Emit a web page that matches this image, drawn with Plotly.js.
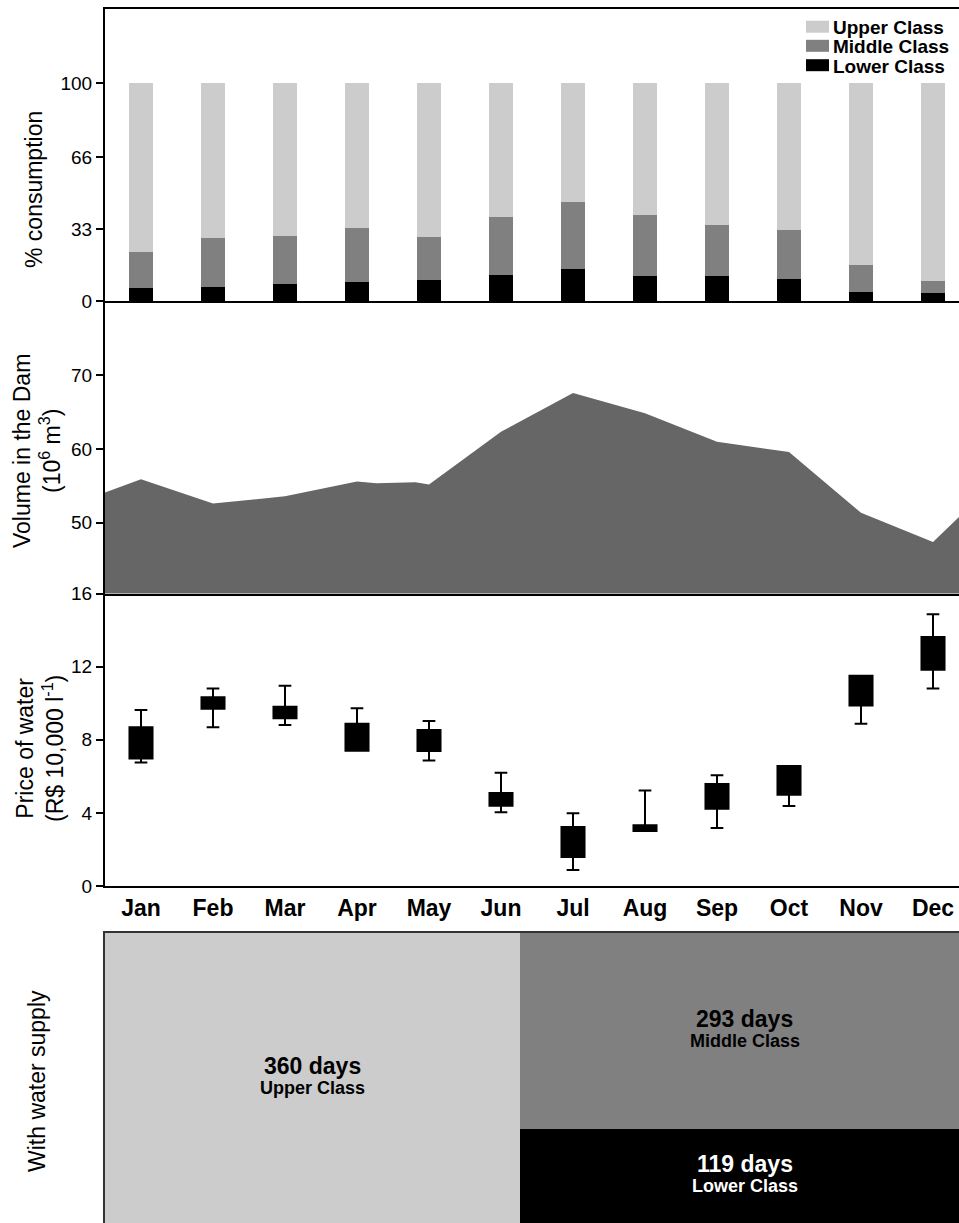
<!DOCTYPE html>
<html>
<head>
<meta charset="utf-8">
<script src="https://cdn.plot.ly/plotly-3.0.1.min.js"></script>
<style>
  html, body { margin: 0; padding: 0; background: #ffffff; overflow: hidden; }
  #chart { width: 959px; height: 1223px; }
</style>
</head>
<body>
<div id="chart"></div>
<script>
// ---------------- DATA ----------------
const months = ['Jan','Feb','Mar','Apr','May','Jun','Jul','Aug','Sep','Oct','Nov','Dec'];
const classNames = ['Upper Class','Middle Class','Lower Class'];

// % consumption by class (stacked to 100)
const lowerPct  = [5.8, 6.3, 7.9, 8.9, 9.5, 11.9, 14.6, 11.6, 11.3, 10.0, 4.3, 3.8];
const middlePct = [16.8, 22.8, 22.0, 24.5, 19.9, 26.7, 30.7, 27.8, 23.5, 22.6, 12.4, 5.5];
const upperPct  = [77.4, 70.9, 70.1, 66.6, 70.6, 61.4, 54.7, 60.6, 65.2, 67.4, 83.3, 90.7];

// Volume in the dam (10^6 m3), x in month index units
const volMonth = [-0.5, 0, 1, 2, 3, 3.27, 3.81, 4, 5, 6, 7, 8, 9, 10, 11, 11.5];
const volValue = [54.1, 55.9, 52.6, 53.6, 55.6, 55.35, 55.5, 55.2, 62.35, 67.6, 64.85, 61.0, 59.6, 51.35, 47.4, 52.1];

// Price of water (R$ 10,000 l-1) box summaries
const priceLowerFence = [6.75, 8.68, 8.81, 7.40, 6.86, 4.03, 0.88, 3.01, 3.17, 4.38, 8.88, 10.81];
const priceQ1         = [6.98, 9.70, 9.17, 7.40, 7.39, 4.39, 1.59, 3.01, 4.23, 4.99, 9.88, 11.83];
const priceMedian     = [7.8, 10.0, 9.5, 8.1, 8.0, 4.7, 2.4, 3.15, 4.9, 5.8, 10.7, 12.7];
const priceQ3         = [8.68, 10.32, 9.81, 8.88, 8.53, 5.09, 3.23, 3.32, 5.58, 6.56, 11.50, 13.62];
const priceUpperFence = [9.63, 10.81, 10.96, 9.72, 9.03, 6.20, 3.98, 5.23, 6.06, 6.56, 11.50, 14.86];

// Days with water supply
const supplyDays = [360, 293, 119];

// ---------------- STYLE / LAYOUT HELPERS ----------------
const classColors = ['#cccccc', '#808080', '#000000'];
const FONT = 'Liberation Sans, Arial, Helvetica, sans-serif';
const W = 959, H = 1223, L = 105;
const px2x = px => (px - L) / (W - L);
const py2y = py => 1 - py / H;

const idx = months.map((_, i) => i);
const xRange = [-0.5, -0.5 + (W - L) / 72];

// bottom mosaic geometry (cell shares, in panel units)
const leftColW = 1, rightColW = 864 / 415 - 1;
const lowerShare = 0.323;

const traces = [];
// Top: stacked bars (lower at bottom)
[lowerPct, middlePct, upperPct].forEach((vals, k) => {
  const ci = 2 - k;
  traces.push({
    type: 'bar', x: idx, y: vals, name: classNames[ci],
    marker: { color: classColors[ci], line: { width: 0 } },
    width: 0.326, xaxis: 'x', yaxis: 'y', showlegend: false, hoverinfo: 'skip'
  });
});
// Middle: area
traces.push({
  type: 'scatter', mode: 'lines', x: volMonth, y: volValue,
  fill: 'tozeroy', fillcolor: '#666666', line: { width: 0, color: '#666666' },
  xaxis: 'x2', yaxis: 'y2', showlegend: false, hoverinfo: 'skip'
});
// Price: boxes
traces.push({
  type: 'box', x: idx, q1: priceQ1, median: priceMedian, q3: priceQ3,
  lowerfence: priceLowerFence, upperfence: priceUpperFence,
  width: 0.32, whiskerwidth: 0.55, boxpoints: false,
  fillcolor: '#000000', line: { color: '#000000', width: 2 },
  xaxis: 'x3', yaxis: 'y3', showlegend: false, hoverinfo: 'skip'
});
// Bottom: mosaic of days with water supply (stacked cells)
const cellX = [leftColW / 2, leftColW + rightColW / 2, leftColW + rightColW / 2];
const cellW = [leftColW, rightColW, rightColW];
const cellH = [1, 1 - lowerShare, lowerShare];
const cellBase = [0, lowerShare, 0];
[0, 2, 1].forEach(i => {
  traces.push({
    type: 'bar', x: [cellX[i]], y: [cellH[i]], width: [cellW[i]],
    marker: { color: classColors[i], line: { width: 0 } },
    xaxis: 'x4', yaxis: 'y4', showlegend: false, hoverinfo: 'skip'
  });
});

const annotations = [];
const shapes = [];
// legend
const legRows = [26.7, 45.8, 65.2];
classNames.forEach((n, i) => {
  shapes.push({
    type: 'rect', xref: 'paper', yref: 'paper', layer: 'above',
    x0: px2x(806), x1: px2x(829), y0: py2y(legRows[i] + 6), y1: py2y(legRows[i] - 6),
    fillcolor: classColors[i], line: { width: 0 }
  });
  annotations.push({
    xref: 'paper', yref: 'paper', x: px2x(831), y: py2y(legRows[i] + 1),
    xanchor: 'left', yanchor: 'middle', showarrow: false, text: n,
    font: { family: FONT, size: 19, weight: 'bold', color: '#000' }
  });
});
// y titles
const titleFont = { family: FONT, size: 23, color: '#000' };
[
  { t: '% consumption', x: 34, y: 190 },
  { t: 'Volume in the Dam<br>(10<sup>6</sup> m<sup>3</sup>)', x: 37, y: 451 },
  { t: 'Price of water<br>(R$ 10,000 l<sup>-1</sup>)', x: 40, y: 749 },
  { t: 'With water supply', x: 37, y: 1081 }
].forEach(a => annotations.push({
  xref: 'paper', yref: 'paper', x: px2x(a.x), y: py2y(a.y), xanchor: 'center', yanchor: 'middle',
  textangle: -90, showarrow: false, text: a.t, font: titleFont
}));
// mosaic labels
supplyDays.forEach((d, i) => {
  const c = i === 2 ? '#ffffff' : '#000000';
  const yc = cellBase[i] + cellH[i] / 2;
  annotations.push({
    xref: 'x4', yref: 'y4', x: cellX[i], y: yc, yshift: 12, showarrow: false,
    text: d + ' days', font: { family: FONT, size: 23, weight: 'bold', color: c }
  });
  annotations.push({
    xref: 'x4', yref: 'y4', x: cellX[i], y: yc, yshift: -10, showarrow: false,
    text: classNames[i], font: { family: FONT, size: 18, weight: 'bold', color: c }
  });
});

const tickFont = { family: FONT, size: 19, color: '#000' };
const yBase = {
  showline: true, linecolor: '#000', linewidth: 2, ticks: 'outside', ticklen: 7, tickwidth: 2,
  tickcolor: '#000', tickfont: tickFont, showgrid: false, zeroline: false, fixedrange: true,
  automargin: false
};
const xBase = {
  range: xRange, showline: true, linecolor: '#000', linewidth: 2, ticks: '', showgrid: false,
  zeroline: false, fixedrange: true, automargin: false, tickvals: idx, ticktext: months
};

const layout = {
  width: W, height: H,
  margin: { l: L, r: 0, t: 0, b: 0, pad: 0 },
  paper_bgcolor: '#ffffff', plot_bgcolor: 'rgba(0,0,0,0)',
  barmode: 'stack', bargap: 0, showlegend: false,
  font: { family: FONT, color: '#000' },
  xaxis:  Object.assign({}, xBase, { domain: [0, 1], anchor: 'y',  showticklabels: false, mirror: true }),
  xaxis2: Object.assign({}, xBase, { domain: [0, 1], anchor: 'y2', showticklabels: false }),
  xaxis3: Object.assign({}, xBase, { domain: [0, 1], anchor: 'y3', showticklabels: true,
            tickfont: { family: FONT, size: 23, weight: 'bold', color: '#000' }, ticklabelstandoff: 0 }),
  xaxis4: { domain: [0, 1], anchor: 'y4', side: 'top', range: [0, (W - L) / 415], showline: true,
            linecolor: '#333', linewidth: 2, showticklabels: false, ticks: '', showgrid: false,
            zeroline: false, fixedrange: true },
  yaxis:  Object.assign({}, yBase, { domain: [py2y(301), py2y(9)], anchor: 'x', range: [0, 134.1],
            tickvals: [0, 33, 66, 100] }),
  yaxis2: Object.assign({}, yBase, { domain: [py2y(593.5), py2y(301)], anchor: 'x2', range: [40.4, 80.1],
            tickvals: [50, 60, 70] }),
  yaxis3: Object.assign({}, yBase, { domain: [py2y(886), py2y(593.5)], anchor: 'x3', range: [0, 16],
            tickvals: [0, 4, 8, 12, 16] }),
  yaxis4: { domain: [0, py2y(933)], anchor: 'x4', range: [0, 1], showline: true, linecolor: '#333',
            linewidth: 2, showticklabels: false, ticks: '', showgrid: false, zeroline: false, fixedrange: true },
  annotations: annotations,
  shapes: shapes
};

Plotly.newPlot('chart', traces, layout, { displayModeBar: false, staticPlot: true });
</script>
</body>
</html>
